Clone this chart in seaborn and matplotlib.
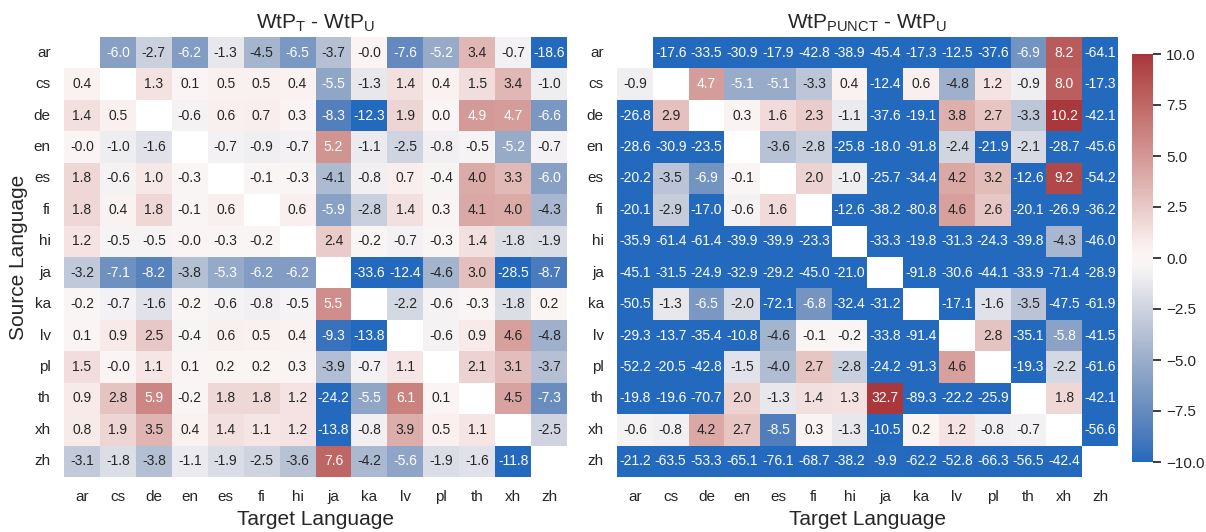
import numpy as np
import pandas as pd
import seaborn as sns
import matplotlib.pyplot as plt

plt.switch_backend('Agg')

sns.set_theme(style="white")
plt.rcParams['font.family'] = ['Liberation Sans', 'DejaVu Sans']
plt.rcParams['mathtext.fontset'] = 'custom'
plt.rcParams['mathtext.rm'] = 'Liberation Sans'
plt.rcParams['mathtext.it'] = 'Liberation Sans:italic'

langs = ['ar', 'cs', 'de', 'en', 'es', 'fi', 'hi', 'ja', 'ka', 'lv', 'pl', 'th', 'xh', 'zh']
nan = np.nan

# WtP_T - WtP_U (rows = source, cols = target)
t_minus_u = [
    [nan, -6.0, -2.7, -6.2, -1.3, -4.5, -6.5, -3.7, -0.0, -7.6, -5.2, 3.4, -0.7, -18.6],
    [0.4, nan, 1.3, 0.1, 0.5, 0.5, 0.4, -5.5, -1.3, 1.4, 0.4, 1.5, 3.4, -1.0],
    [1.4, 0.5, nan, -0.6, 0.6, 0.7, 0.3, -8.3, -12.3, 1.9, 0.0, 4.9, 4.7, -6.6],
    [-0.0, -1.0, -1.6, nan, -0.7, -0.9, -0.7, 5.2, -1.1, -2.5, -0.8, -0.5, -5.2, -0.7],
    [1.8, -0.6, 1.0, -0.3, nan, -0.1, -0.3, -4.1, -0.8, 0.7, -0.4, 4.0, 3.3, -6.0],
    [1.8, 0.4, 1.8, -0.1, 0.6, nan, 0.6, -5.9, -2.8, 1.4, 0.3, 4.1, 4.0, -4.3],
    [1.2, -0.5, -0.5, -0.0, -0.3, -0.2, nan, 2.4, -0.2, -0.7, -0.3, 1.4, -1.8, -1.9],
    [-3.2, -7.1, -8.2, -3.8, -5.3, -6.2, -6.2, nan, -33.6, -12.4, -4.6, 3.0, -28.5, -8.7],
    [-0.2, -0.7, -1.6, -0.2, -0.6, -0.8, -0.5, 5.5, nan, -2.2, -0.6, -0.3, -1.8, 0.2],
    [0.1, 0.9, 2.5, -0.4, 0.6, 0.5, 0.4, -9.3, -13.8, nan, -0.6, 0.9, 4.6, -4.8],
    [1.5, -0.0, 1.1, 0.1, 0.2, 0.2, 0.3, -3.9, -0.7, 1.1, nan, 2.1, 3.1, -3.7],
    [0.9, 2.8, 5.9, -0.2, 1.8, 1.8, 1.2, -24.2, -5.5, 6.1, 0.1, nan, 4.5, -7.3],
    [0.8, 1.9, 3.5, 0.4, 1.4, 1.1, 1.2, -13.8, -0.8, 3.9, 0.5, 1.1, nan, -2.5],
    [-3.1, -1.8, -3.8, -1.1, -1.9, -2.5, -3.6, 7.6, -4.2, -5.6, -1.9, -1.6, -11.8, nan],
]

# WtP_PUNCT - WtP_U
punct_minus_u = [
    [nan, -17.6, -33.5, -30.9, -17.9, -42.8, -38.9, -45.4, -17.3, -12.5, -37.6, -6.9, 8.2, -64.1],
    [-0.9, nan, 4.7, -5.1, -5.1, -3.3, 0.4, -12.4, 0.6, -4.8, 1.2, -0.9, 8.0, -17.3],
    [-26.8, 2.9, nan, 0.3, 1.6, 2.3, -1.1, -37.6, -19.1, 3.8, 2.7, -3.3, 10.2, -42.1],
    [-28.6, -30.9, -23.5, nan, -3.6, -2.8, -25.8, -18.0, -91.8, -2.4, -21.9, -2.1, -28.7, -45.6],
    [-20.2, -3.5, -6.9, -0.1, nan, 2.0, -1.0, -25.7, -34.4, 4.2, 3.2, -12.6, 9.2, -54.2],
    [-20.1, -2.9, -17.0, -0.6, 1.6, nan, -12.6, -38.2, -80.8, 4.6, 2.6, -20.1, -26.9, -36.2],
    [-35.9, -61.4, -61.4, -39.9, -39.9, -23.3, nan, -33.3, -19.8, -31.3, -24.3, -39.8, -4.3, -46.0],
    [-45.1, -31.5, -24.9, -32.9, -29.2, -45.0, -21.0, nan, -91.8, -30.6, -44.1, -33.9, -71.4, -28.9],
    [-50.5, -1.3, -6.5, -2.0, -72.1, -6.8, -32.4, -31.2, nan, -17.1, -1.6, -3.5, -47.5, -61.9],
    [-29.3, -13.7, -35.4, -10.8, -4.6, -0.1, -0.2, -33.8, -91.4, nan, 2.8, -35.1, -5.8, -41.5],
    [-52.2, -20.5, -42.8, -1.5, -4.0, 2.7, -2.8, -24.2, -91.3, 4.6, nan, -19.3, -2.2, -61.6],
    [-19.8, -19.6, -70.7, 2.0, -1.3, 1.4, 1.3, 32.7, -89.3, -22.2, -25.9, nan, 1.8, -42.1],
    [-0.6, -0.8, 4.2, 2.7, -8.5, 0.3, -1.3, -10.5, 0.2, 1.2, -0.8, -0.7, nan, -56.6],
    [-21.2, -63.5, -53.3, -65.1, -76.1, -68.7, -38.2, -9.9, -62.2, -52.8, -66.3, -56.5, -42.4, nan],
]

df_t = pd.DataFrame(t_minus_u, index=langs, columns=langs)
df_p = pd.DataFrame(punct_minus_u, index=langs, columns=langs)

W, H = 1206, 532
fig = plt.figure(figsize=(W / 100, H / 100), dpi=100)
ax1 = fig.add_axes([64 / W, (H - 477) / H, 503 / W, 440 / H])
ax2 = fig.add_axes([617 / W, (H - 477) / H, 501 / W, 440 / H])
cax = fig.add_axes([1132 / W, (H - 462) / H, 21 / W, 408 / H])

kw = dict(cmap='vlag', vmin=-10, vmax=10, center=0, annot=True, fmt='.1f',
          annot_kws={'fontsize': 10})

sns.heatmap(df_t, ax=ax1, cbar=False, **kw)
sns.heatmap(df_p, ax=ax2, cbar=True, cbar_ax=cax, **kw)

ax1.set_title(r'WtP$_\mathrm{T}$ - WtP$_\mathrm{U}$', fontsize=15)
ax2.set_title(r'WtP$_\mathrm{PUNCT}$ - WtP$_\mathrm{U}$', fontsize=15)
ax1.set_ylabel('Source Language', fontsize=15)
ax2.set_ylabel('')
for ax in (ax1, ax2):
    ax.set_xlabel('Target Language', fontsize=15)
    ax.tick_params(axis='both', labelsize=11)
    ax.set_yticklabels(ax.get_yticklabels(), rotation=0)
    ax.set_xticklabels(ax.get_xticklabels(), rotation=0)

cax.tick_params(labelsize=11)

plt.savefig('out.png', dpi=100)
plt.close()
